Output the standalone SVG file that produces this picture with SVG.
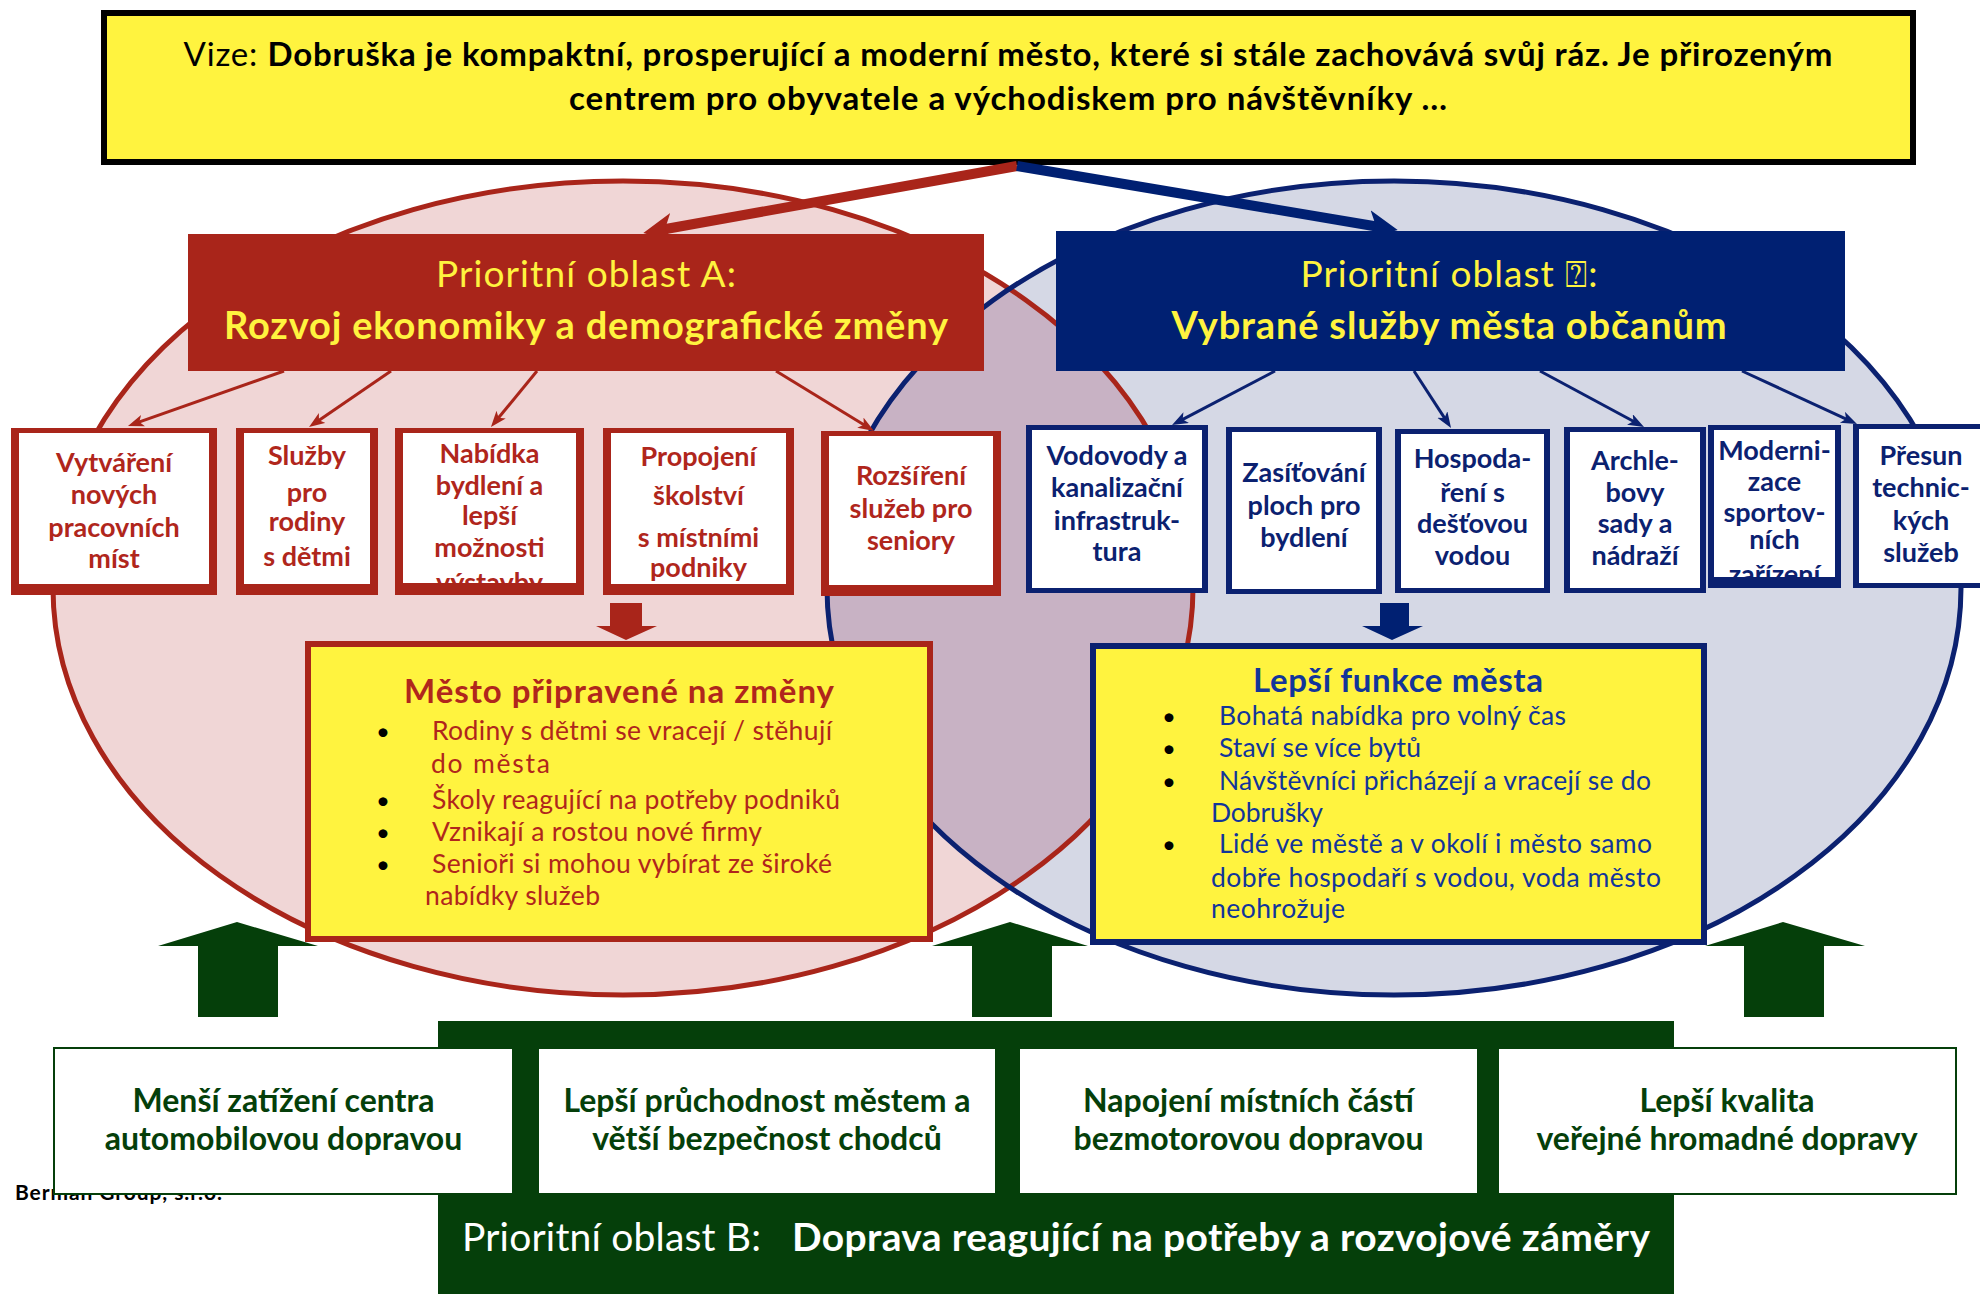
<svg xmlns="http://www.w3.org/2000/svg" width="1980" height="1294" viewBox="0 0 1980 1294">
<defs>
<style>
text{font-family:Lato,"Open Sans","DejaVu Sans",sans-serif}
.vis{font-size:33px;fill:#000}
.hy{fill:#fff33f;text-anchor:middle}
.rt{font-size:27px;font-weight:bold;fill:#b0261c;text-anchor:middle}
.bt{font-size:27px;font-weight:bold;fill:#0b2170;text-anchor:middle}
.rl{font-size:26.5px;fill:#b0261c}
.bl{font-size:26.5px;fill:#12359a}
.dot{font-size:24px;fill:#000}
.gt{font-size:32px;font-weight:bold;fill:#053f0a;text-anchor:middle}
.thickR{stroke:#a9251a;stroke-width:10;fill:none}
.thickB{stroke:#002072;stroke-width:10;fill:none}
.thinR{stroke:#a9251a;stroke-width:3;fill:none}
.thinB{stroke:#0b2170;stroke-width:3;fill:none}
</style>
<marker id="headR" markerUnits="userSpaceOnUse" markerWidth="32" markerHeight="32" refX="10" refY="15" orient="auto"><path d="M0,0 L30,15 L0,30 L8,15 z" fill="#a9251a"/></marker>
<marker id="headB" markerUnits="userSpaceOnUse" markerWidth="32" markerHeight="32" refX="10" refY="15" orient="auto"><path d="M0,0 L30,15 L0,30 L8,15 z" fill="#002072"/></marker>
<marker id="smR" markerUnits="userSpaceOnUse" markerWidth="18" markerHeight="14" refX="6" refY="6" orient="auto"><path d="M0,0 L16,6 L0,12 L4,6 z" fill="#a9251a"/></marker>
<marker id="smB" markerUnits="userSpaceOnUse" markerWidth="18" markerHeight="14" refX="6" refY="6" orient="auto"><path d="M0,0 L16,6 L0,12 L4,6 z" fill="#0b2170"/></marker>
<clipPath id="clipRed"><ellipse cx="623" cy="588" rx="570" ry="407"/></clipPath>
<clipPath id="clipR3"><rect x="403" y="433" width="173" height="150"/></clipPath>
<clipPath id="clipB5"><rect x="1714" y="430" width="121" height="147"/></clipPath>
</defs>
<rect width="1980" height="1294" fill="#fff"/>

<g id="ellipses">
<ellipse cx="623" cy="588" rx="570" ry="407" fill="#f0d6d6"/>
<ellipse cx="1394" cy="588" rx="567" ry="407" fill="#d5d8e5"/>
<ellipse cx="1394" cy="588" rx="567" ry="407" fill="#c8b2c4" clip-path="url(#clipRed)"/>
<ellipse cx="623" cy="588" rx="570" ry="407" fill="none" stroke="#a9251a" stroke-width="5"/>
<ellipse cx="1394" cy="588" rx="567" ry="407" fill="none" stroke="#0b2170" stroke-width="5"/>
</g>

<g id="vision">
<rect x="104" y="13" width="1809" height="149" fill="#fff33f" stroke="#000" stroke-width="6"/>
<text class="vis" x="1008" y="66" text-anchor="middle" textLength="1649">Vize: <tspan font-weight="bold">Dobruška je kompaktní, prosperující a moderní město, které si stále zachovává svůj ráz. Je přirozeným</tspan></text>
<text class="vis" x="1008" y="110" text-anchor="middle" font-weight="bold" textLength="878">centrem pro obyvatele a východiskem pro návštěvníky …</text>
</g>

<g id="connectors">
<line class="thickR" x1="1017" y1="166" x2="663" y2="229.5" marker-end="url(#headR)"/>
<line class="thickB" x1="1017" y1="166" x2="1378" y2="226.7" marker-end="url(#headB)"/>
<line class="thinR" x1="284" y1="371" x2="137.4" y2="422.7" marker-end="url(#smR)"/>
<line class="thinR" x1="391" y1="371" x2="317.3" y2="421.4" marker-end="url(#smR)"/>
<line class="thinR" x1="537" y1="371" x2="497.3" y2="419.3" marker-end="url(#smR)"/>
<line class="thinR" x1="776" y1="371" x2="865.5" y2="425.8" marker-end="url(#smR)"/>
<line class="thinB" x1="1275" y1="371" x2="1180.9" y2="420.4" marker-end="url(#smB)"/>
<line class="thinB" x1="1414" y1="371" x2="1445.6" y2="419.6" marker-end="url(#smB)"/>
<line class="thinB" x1="1540" y1="371" x2="1635.2" y2="422.3" marker-end="url(#smB)"/>
<line class="thinB" x1="1742" y1="371" x2="1847.9" y2="419.8" marker-end="url(#smB)"/>
<polygon points="610,603 642,603 642,626 657,626 626,640 596,626 610,626" fill="#a9251a"/>
<polygon points="1380,603 1409,603 1409,626 1423,626 1392,640 1362,626 1380,626" fill="#002072"/>
<polygon points="198,1017 278,1017 278,946 318,946 237,922 158,946 198,946" fill="#053f0a"/>
<polygon points="972,1017 1052,1017 1052,946 1088,946 1010,922 932,946 972,946" fill="#053f0a"/>
<polygon points="1744,1017 1824,1017 1824,946 1865,946 1783,922 1705,946 1744,946" fill="#053f0a"/>
</g>

<g id="areaA">
<rect x="188" y="234" width="796" height="137" fill="#a9251a"/>
<text class="hy" x="586" y="287" font-size="37" textLength="300">Prioritní oblast A:</text>
<text class="hy" x="586" y="339" font-size="38" font-weight="bold" textLength="724">Rozvoj ekonomiky a demografické změny</text>
</g>

<g id="areaC">
<rect x="1056" y="231" width="789" height="140" fill="#002072"/>
<text class="hy" x="1449" y="287" font-size="37" textLength="297">Prioritní oblast ⍰:</text>
<text class="hy" x="1449" y="339" font-size="38" font-weight="bold" textLength="555">Vybrané služby města občanům</text>
</g>

<g id="a1">
<rect x="11" y="428" width="206" height="167" fill="#a9251a"/><rect x="19" y="433" width="190" height="151" fill="#fff"/>
<text class="rt" x="114" y="472">Vytváření</text><text class="rt" x="114" y="504">nových</text><text class="rt" x="114" y="537">pracovních</text><text class="rt" x="114" y="568">míst</text>
</g>
<g id="a2">
<rect x="236" y="428" width="142" height="167" fill="#a9251a"/><rect x="244" y="433" width="126" height="151" fill="#fff"/>
<text class="rt" x="307" y="465">Služby</text><text class="rt" x="307" y="502">pro</text><text class="rt" x="307" y="531">rodiny</text><text class="rt" x="307" y="566">s dětmi</text>
</g>
<g id="a3">
<rect x="395" y="428" width="189" height="167" fill="#a9251a"/><rect x="403" y="433" width="173" height="150" fill="#fff"/>
<g clip-path="url(#clipR3)">
<text class="rt" x="489.5" y="463">Nabídka</text><text class="rt" x="489.5" y="495">bydlení a</text><text class="rt" x="489.5" y="525">lepší</text><text class="rt" x="489.5" y="557">možnosti</text><text class="rt" x="489.5" y="592">výstavby</text>
</g>
</g>
<g id="a4">
<rect x="603" y="428" width="191" height="167" fill="#a9251a"/><rect x="611" y="433" width="175" height="151" fill="#fff"/>
<text class="rt" x="698.5" y="466">Propojení</text><text class="rt" x="698.5" y="505">školství</text><text class="rt" x="698.5" y="547">s místními</text><text class="rt" x="698.5" y="577">podniky</text>
</g>
<g id="a5">
<rect x="821" y="431" width="180" height="165" fill="#a9251a"/><rect x="829" y="436" width="164" height="149" fill="#fff"/>
<text class="rt" x="911" y="485">Rozšíření</text><text class="rt" x="911" y="518">služeb pro</text><text class="rt" x="911" y="550">seniory</text>
</g>

<g id="c1">
<rect x="1026" y="425" width="182" height="168" fill="#0b2170"/><rect x="1032" y="430" width="170" height="158" fill="#fff"/>
<text class="bt" x="1117" y="465">Vodovody a</text><text class="bt" x="1117" y="497">kanalizační</text><text class="bt" x="1117" y="530">infrastruk-</text><text class="bt" x="1117" y="561">tura</text>
</g>
<g id="c2">
<rect x="1226" y="427" width="156" height="167" fill="#0b2170"/><rect x="1232" y="432" width="144" height="157" fill="#fff"/>
<text class="bt" x="1304" y="482">Zasíťování</text><text class="bt" x="1304" y="515">ploch pro</text><text class="bt" x="1304" y="547">bydlení</text>
</g>
<g id="c3">
<rect x="1395" y="429" width="155" height="164" fill="#0b2170"/><rect x="1401" y="434" width="143" height="154" fill="#fff"/>
<text class="bt" x="1472.5" y="468">Hospoda-</text><text class="bt" x="1472.5" y="502">ření s</text><text class="bt" x="1472.5" y="533">dešťovou</text><text class="bt" x="1472.5" y="565">vodou</text>
</g>
<g id="c4">
<rect x="1564" y="427" width="142" height="166" fill="#0b2170"/><rect x="1570" y="432" width="130" height="156" fill="#fff"/>
<text class="bt" x="1635" y="470">Archle-</text><text class="bt" x="1635" y="502">bovy</text><text class="bt" x="1635" y="533">sady a</text><text class="bt" x="1635" y="565">nádraží</text>
</g>
<g id="c5">
<rect x="1708" y="425" width="133" height="163" fill="#0b2170"/><rect x="1714" y="430" width="121" height="147" fill="#fff"/>
<g clip-path="url(#clipB5)">
<text class="bt" x="1774.5" y="460" font-size="23">Moderni-</text><text class="bt" x="1774.5" y="491" font-size="23">zace</text><text class="bt" x="1774.5" y="522" font-size="23">sportov-</text><text class="bt" x="1774.5" y="549" font-size="23">ních</text><text class="bt" x="1774.5" y="584" font-size="23">zařízení</text>
</g>
</g>
<g id="c6">
<rect x="1853" y="424" width="140" height="164" fill="#0b2170"/><rect x="1859" y="429" width="134" height="154" fill="#fff"/>
<text class="bt" x="1921" y="465">Přesun</text><text class="bt" x="1921" y="497">technic-</text><text class="bt" x="1921" y="530">kých</text><text class="bt" x="1921" y="562">služeb</text>
</g>

<g id="outcomeA">
<rect x="308" y="644" width="622" height="295" fill="#fff33f" stroke="#a9251a" stroke-width="6"/>
<text x="619" y="703" font-size="33" font-weight="bold" fill="#b0261c" text-anchor="middle" textLength="430">Město připravené na změny</text>
<text class="dot" x="376" y="740">•</text><text class="rl" x="432" y="740" textLength="400">Rodiny s dětmi se vracejí / stěhují</text>
<text class="rl" x="431" y="773" textLength="119">do města</text>
<text class="dot" x="376" y="809">•</text><text class="rl" x="432" y="809" textLength="408">Školy reagující na potřeby podniků</text>
<text class="dot" x="376" y="841">•</text><text class="rl" x="432" y="841" textLength="330">Vznikají a rostou nové firmy</text>
<text class="dot" x="376" y="873">•</text><text class="rl" x="432" y="873" textLength="400">Senioři si mohou vybírat ze široké</text>
<text class="rl" x="425" y="905" textLength="175">nabídky služeb</text>
</g>

<g id="outcomeC">
<rect x="1093" y="646" width="611" height="296" fill="#fff33f" stroke="#0b2170" stroke-width="6"/>
<text x="1398" y="692" font-size="33" font-weight="bold" fill="#12359a" text-anchor="middle" textLength="290">Lepší funkce města</text>
<text class="dot" x="1162" y="725">•</text><text class="bl" x="1219" y="725" textLength="347">Bohatá nabídka pro volný čas</text>
<text class="dot" x="1162" y="757">•</text><text class="bl" x="1219" y="757" textLength="202">Staví se více bytů</text>
<text class="dot" x="1162" y="790">•</text><text class="bl" x="1219" y="790" textLength="432">Návštěvníci přicházejí a vracejí se do</text>
<text class="bl" x="1211" y="822" textLength="112">Dobrušky</text>
<text class="dot" x="1162" y="853">•</text><text class="bl" x="1219" y="853" textLength="433">Lidé ve městě a v okolí i město samo</text>
<text class="bl" x="1211" y="887" textLength="450">dobře hospodaří s vodou, voda město</text>
<text class="bl" x="1211" y="918" textLength="134">neohrožuje</text>
</g>

<g id="areaB">
<rect x="438" y="1021" width="1236" height="273" fill="#053f0a"/>
<text x="462" y="1251" font-size="39" fill="#fff" textLength="299">Prioritní oblast B:</text>
<text x="792" y="1251" font-size="39" font-weight="bold" fill="#fff" textLength="858">Doprava reagující na potřeby a rozvojové záměry</text>
</g>

<g id="credit">
<text x="15" y="1200" font-size="21" font-weight="bold" fill="#000" textLength="207">Berman Group, s.r.o.</text>
</g>

<g id="b1">
<rect x="54" y="1048" width="459" height="146" fill="#fff" stroke="#053f0a" stroke-width="2"/>
<text class="gt" x="283.5" y="1112">Menší zatížení centra</text><text class="gt" x="283.5" y="1150">automobilovou dopravou</text>
</g>
<g id="b2">
<rect x="538" y="1048" width="458" height="146" fill="#fff" stroke="#053f0a" stroke-width="2"/>
<text class="gt" x="767" y="1112">Lepší průchodnost městem a</text><text class="gt" x="767" y="1150">větší bezpečnost chodců</text>
</g>
<g id="b3">
<rect x="1019" y="1048" width="459" height="146" fill="#fff" stroke="#053f0a" stroke-width="2"/>
<text class="gt" x="1248.5" y="1112">Napojení místních částí</text><text class="gt" x="1248.5" y="1150">bezmotorovou dopravou</text>
</g>
<g id="b4">
<rect x="1498" y="1048" width="458" height="146" fill="#fff" stroke="#053f0a" stroke-width="2"/>
<text class="gt" x="1727" y="1112">Lepší kvalita</text><text class="gt" x="1727" y="1150">veřejné hromadné dopravy</text>
</g>
</svg>
